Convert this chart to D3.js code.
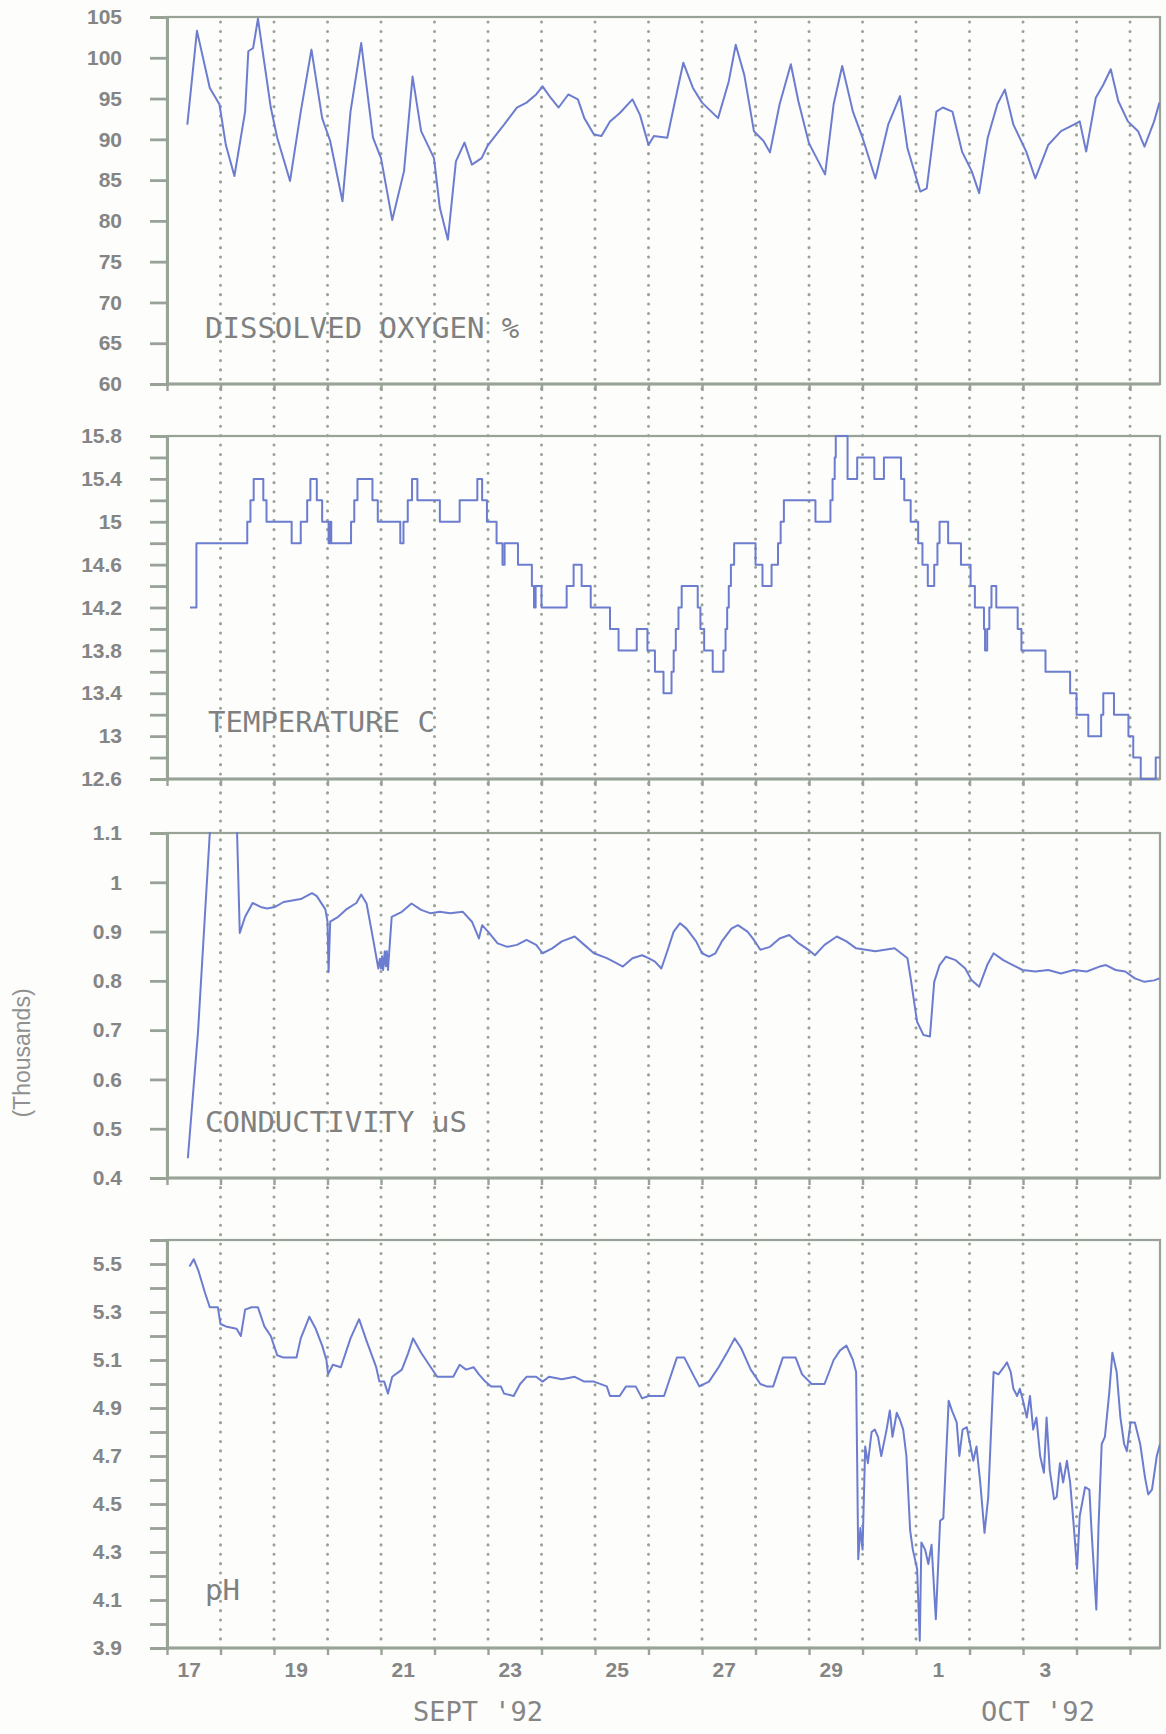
<!DOCTYPE html>
<html><head><meta charset="utf-8">
<script src="https://cdn.jsdelivr.net/npm/d3@7"></script>
<style>body{margin:0;background:#fff}svg{display:block}</style>
</head><body>
<script>
// x values: days since 17 Sept 1992 00:00
const dissolvedOxygen = [[0.38,91.8],[0.56,103.3],[0.8,96.3],[0.98,94.3],[1.1,89.3],[1.26,85.5],[1.46,93.4],[1.52,100.8],[1.61,101.2],[1.7,104.8],[1.94,93.9],[2.06,90.2],[2.3,84.9],[2.5,93.4],[2.7,101],[2.9,92.6],[3.05,89.8],[3.28,82.4],[3.43,93.4],[3.63,101.8],[3.85,90.2],[4.0,87.7],[4.21,80.1],[4.43,86.1],[4.59,97.7],[4.75,91],[4.99,87.7],[5.1,81.6],[5.25,77.7],[5.4,87.3],[5.56,89.6],[5.7,86.9],[5.88,87.7],[6.0,89.3],[6.3,91.8],[6.54,93.9],[6.72,94.5],[6.9,95.5],[7.02,96.5],[7.17,95.1],[7.32,93.9],[7.5,95.5],[7.68,94.9],[7.8,92.6],[7.98,90.6],[8.12,90.4],[8.28,92.2],[8.46,93.2],[8.7,94.9],[8.84,93],[9.0,89.3],[9.1,90.4],[9.35,90.2],[9.47,93.9],[9.65,99.4],[9.83,96.3],[10.0,94.5],[10.3,92.6],[10.5,97.1],[10.63,101.6],[10.79,97.9],[10.97,91],[11.15,89.8],[11.27,88.4],[11.45,94.3],[11.66,99.2],[11.8,94.7],[12.0,89.5],[12.3,85.7],[12.46,94.3],[12.62,99],[12.82,93.4],[13.0,90.2],[13.24,85.2],[13.48,91.8],[13.7,95.3],[13.84,88.9],[14.08,83.6],[14.2,84],[14.38,93.4],[14.5,93.9],[14.68,93.4],[14.86,88.5],[15.04,86.1],[15.18,83.4],[15.34,90.2],[15.52,94.3],[15.66,96.1],[15.82,91.8],[16.06,88.5],[16.23,85.2],[16.47,89.3],[16.71,91],[16.95,91.8],[17.06,92.2],[17.18,88.5],[17.36,95.1],[17.5,96.7],[17.64,98.6],[17.78,94.7],[17.96,92.2],[18.15,91],[18.27,89.1],[18.45,92.2],[18.55,94.5]];

// temperature: each value holds until the next reading (step)
const temperature = [[0.43,14.2],[0.55,14.8],[1.5,15.0],[1.56,15.2],[1.62,15.4],[1.8,15.2],[1.86,15.0],[2.33,14.8],[2.5,15.0],[2.62,15.2],[2.68,15.4],[2.8,15.2],[2.9,15.0],[3.02,14.8],[3.05,15.0],[3.07,14.8],[3.44,15.0],[3.5,15.2],[3.56,15.4],[3.84,15.2],[3.94,15.0],[4.36,14.8],[4.42,15.0],[4.5,15.2],[4.58,15.4],[4.68,15.2],[5.1,15.0],[5.47,15.2],[5.8,15.4],[5.89,15.2],[5.98,15.0],[6.16,14.8],[6.27,14.6],[6.31,14.8],[6.56,14.6],[6.82,14.4],[6.86,14.2],[6.89,14.4],[7.0,14.2],[7.47,14.4],[7.6,14.6],[7.75,14.4],[7.92,14.2],[8.28,14.0],[8.44,13.8],[8.78,14.0],[8.98,13.8],[9.12,13.6],[9.28,13.4],[9.43,13.6],[9.47,13.8],[9.51,14.0],[9.56,14.2],[9.62,14.4],[9.92,14.2],[9.97,14.0],[10.04,13.8],[10.2,13.6],[10.4,13.8],[10.44,14.0],[10.47,14.2],[10.5,14.4],[10.54,14.6],[10.6,14.8],[11.0,14.6],[11.13,14.4],[11.3,14.6],[11.42,14.8],[11.47,15.0],[11.53,15.2],[12.12,15.0],[12.4,15.2],[12.44,15.4],[12.48,15.6],[12.5,15.8],[12.72,15.4],[12.9,15.6],[13.22,15.4],[13.4,15.6],[13.72,15.4],[13.78,15.2],[13.9,15.0],[14.04,14.8],[14.12,14.6],[14.22,14.4],[14.34,14.6],[14.4,14.8],[14.44,15.0],[14.6,14.8],[14.84,14.6],[15.02,14.4],[15.1,14.2],[15.27,14.0],[15.29,13.8],[15.33,14.0],[15.37,14.2],[15.41,14.4],[15.5,14.2],[15.9,14.0],[15.97,13.8],[16.42,13.6],[16.88,13.4],[17.0,13.2],[17.22,13.0],[17.46,13.2],[17.5,13.4],[17.7,13.2],[17.97,13.0],[18.06,12.8],[18.2,12.6],[18.48,12.8],[18.56,12.8]];

// conductivity (thousands uS); values above 1.1 are off scale
const conductivity = [[0.39,0.44],[0.58,0.697],[0.8,1.1],[0.84,1.25],[1.27,1.25],[1.31,1.1],[1.36,0.897],[1.46,0.93],[1.6,0.958],[1.75,0.95],[1.87,0.947],[2.02,0.95],[2.18,0.96],[2.5,0.966],[2.71,0.978],[2.8,0.972],[2.96,0.945],[3.0,0.92],[3.02,0.818],[3.05,0.92],[3.2,0.93],[3.35,0.945],[3.54,0.958],[3.63,0.975],[3.73,0.957],[3.86,0.88],[3.95,0.825],[3.98,0.845],[4.0,0.825],[4.02,0.85],[4.04,0.822],[4.07,0.86],[4.09,0.83],[4.11,0.86],[4.13,0.822],[4.2,0.93],[4.39,0.94],[4.57,0.957],[4.75,0.944],[4.93,0.937],[5.1,0.94],[5.29,0.937],[5.53,0.94],[5.7,0.92],[5.83,0.886],[5.89,0.913],[6.0,0.9],[6.18,0.876],[6.36,0.869],[6.54,0.873],[6.72,0.883],[6.9,0.873],[7.02,0.856],[7.2,0.866],[7.38,0.88],[7.62,0.89],[7.8,0.873],[7.98,0.856],[8.22,0.846],[8.4,0.836],[8.52,0.829],[8.7,0.846],[8.88,0.852],[9.0,0.846],[9.12,0.839],[9.24,0.825],[9.35,0.86],[9.47,0.9],[9.59,0.917],[9.71,0.906],[9.89,0.88],[10.0,0.856],[10.13,0.849],[10.25,0.856],[10.37,0.88],[10.55,0.906],[10.67,0.913],[10.85,0.9],[10.97,0.883],[11.09,0.863],[11.27,0.869],[11.45,0.886],[11.63,0.893],[11.81,0.876],[11.99,0.863],[12.11,0.852],[12.29,0.873],[12.52,0.89],[12.7,0.88],[12.88,0.866],[13.06,0.863],[13.24,0.86],[13.42,0.863],[13.6,0.866],[13.72,0.856],[13.84,0.846],[13.9,0.805],[14.02,0.717],[14.14,0.69],[14.26,0.687],[14.34,0.798],[14.44,0.832],[14.56,0.849],[14.74,0.842],[14.92,0.825],[15.04,0.801],[15.18,0.788],[15.33,0.832],[15.45,0.856],[15.63,0.842],[15.81,0.832],[15.99,0.822],[16.23,0.819],[16.47,0.822],[16.71,0.815],[16.95,0.822],[17.19,0.819],[17.43,0.829],[17.55,0.832],[17.73,0.822],[17.91,0.819],[18.09,0.805],[18.27,0.798],[18.45,0.801],[18.55,0.805]];

const pH = [[0.42,5.49],[0.5,5.52],[0.59,5.47],[0.71,5.38],[0.8,5.32],[0.95,5.32],[1.0,5.25],[1.1,5.24],[1.3,5.23],[1.38,5.2],[1.46,5.31],[1.58,5.32],[1.7,5.32],[1.82,5.24],[1.94,5.2],[2.06,5.12],[2.18,5.11],[2.42,5.11],[2.5,5.19],[2.66,5.28],[2.78,5.23],[2.9,5.16],[2.98,5.1],[3.01,5.04],[3.1,5.08],[3.25,5.07],[3.43,5.19],[3.59,5.27],[3.73,5.18],[3.91,5.07],[3.97,5.01],[4.06,5.01],[4.13,4.96],[4.21,5.03],[4.39,5.06],[4.51,5.13],[4.6,5.19],[4.75,5.13],[4.93,5.07],[5.05,5.03],[5.35,5.03],[5.47,5.08],[5.59,5.06],[5.73,5.07],[5.83,5.04],[5.95,5.01],[6.06,4.99],[6.24,4.99],[6.3,4.96],[6.48,4.95],[6.6,5.0],[6.72,5.03],[6.9,5.03],[7.02,5.01],[7.14,5.03],[7.38,5.02],[7.62,5.03],[7.8,5.01],[7.98,5.01],[8.22,4.99],[8.28,4.95],[8.46,4.95],[8.58,4.99],[8.76,4.99],[8.88,4.94],[9.0,4.95],[9.29,4.95],[9.41,5.03],[9.53,5.11],[9.67,5.11],[9.83,5.04],[9.95,4.99],[10.13,5.01],[10.31,5.07],[10.49,5.14],[10.61,5.19],[10.73,5.15],[10.91,5.06],[11.09,5.0],[11.21,4.99],[11.33,4.99],[11.51,5.11],[11.63,5.11],[11.75,5.11],[11.87,5.04],[12.05,5.0],[12.29,5.0],[12.46,5.1],[12.58,5.14],[12.7,5.16],[12.82,5.1],[12.88,5.05],[12.9,4.67],[12.92,4.27],[12.96,4.4],[13.0,4.31],[13.05,4.74],[13.1,4.67],[13.17,4.8],[13.23,4.81],[13.29,4.78],[13.35,4.7],[13.45,4.81],[13.51,4.89],[13.56,4.78],[13.64,4.88],[13.7,4.85],[13.76,4.81],[13.82,4.7],[13.89,4.39],[13.94,4.31],[14.02,4.23],[14.07,3.93],[14.1,4.34],[14.17,4.31],[14.23,4.25],[14.29,4.33],[14.37,4.02],[14.45,4.43],[14.51,4.44],[14.61,4.93],[14.67,4.89],[14.76,4.84],[14.81,4.7],[14.87,4.81],[14.95,4.82],[15.01,4.75],[15.07,4.68],[15.13,4.74],[15.2,4.59],[15.28,4.38],[15.35,4.53],[15.45,5.05],[15.54,5.04],[15.64,5.07],[15.7,5.09],[15.77,5.05],[15.82,4.98],[15.89,4.95],[15.94,4.98],[16.0,4.93],[16.07,4.86],[16.13,4.95],[16.19,4.81],[16.25,4.86],[16.32,4.7],[16.39,4.63],[16.44,4.86],[16.5,4.64],[16.58,4.52],[16.63,4.53],[16.69,4.67],[16.75,4.59],[16.82,4.68],[16.88,4.59],[16.94,4.43],[17.01,4.23],[17.06,4.45],[17.16,4.57],[17.24,4.56],[17.28,4.39],[17.37,4.06],[17.41,4.4],[17.47,4.75],[17.53,4.78],[17.61,4.96],[17.67,5.13],[17.75,5.05],[17.82,4.86],[17.89,4.75],[17.94,4.72],[18.01,4.84],[18.09,4.84],[18.19,4.75],[18.28,4.61],[18.34,4.54],[18.41,4.56],[18.5,4.7],[18.56,4.75]];

const doTicks = [60,65,70,75,80,85,90,95,100,105];
const doTickLabels = ["60","65","70","75","80","85","90","95","100","105"];
const tempTicks = [12.6,12.8,13.0,13.2,13.4,13.6,13.8,14.0,14.2,14.4,14.6,14.8,15.0,15.2,15.4,15.6,15.8];
const tempTickLabels = ["12.6","","13","","13.4","","13.8","","14.2","","14.6","","15","","15.4","","15.8"];
const condTicks = [0.4,0.5,0.6,0.7,0.8,0.9,1.0,1.1];
const condTickLabels = ["0.4","0.5","0.6","0.7","0.8","0.9","1","1.1"];
const phTicks = [3.9,4.0,4.1,4.2,4.3,4.4,4.5,4.6,4.7,4.8,4.9,5.0,5.1,5.2,5.3,5.4,5.5];
const phTickLabels = ["3.9","","4.1","","4.3","","4.5","","4.7","","4.9","","5.1","","5.3","","5.5"];
const dayTicks = [0,1,2,3,4,5,6,7,8,9,10,11,12,13,14,15,16,17,18];
const dayLabelPos = [0.5,2.5,4.5,6.5,8.5,10.5,12.5,14.5,16.5];
const dayLabels = ["17","19","21","23","25","27","29","1","3"];
const panelTitles = ["DISSOLVED OXYGEN %","TEMPERATURE C","CONDUCTIVITY uS","pH"];

const W = 1166, H = 1734;
const LINE = "#6c7dcf", AXIS = "#98a296", GRID = "#99a297", TEXT = "#858585";
const L = 167, R = 1160;

const panels = [
  {data: dissolvedOxygen, domain:[60,105], ticks: doTicks, labels: doTickLabels, title: panelTitles[0], top:17, bottom:384, curve:d3.curveLinear, tx:205, ty:338},
  {data: temperature, domain:[12.6,15.8], ticks: tempTicks, labels: tempTickLabels, title: panelTitles[1], top:436, bottom:779, curve:d3.curveStepAfter, tx:208, ty:732},
  {data: conductivity, domain:[0.4,1.1], ticks: condTicks, labels: condTickLabels, title: panelTitles[2], top:833, bottom:1178, curve:d3.curveLinear, tx:205, ty:1132},
  {data: pH, domain:[3.9,5.6], ticks: phTicks, labels: phTickLabels, title: panelTitles[3], top:1240, bottom:1648, curve:d3.curveLinear, tx:205, ty:1600}
];

const x = d3.scaleLinear().domain([0, 18.56]).range([L, R]);

const svg = d3.select("body").append("svg").attr("width", W).attr("height", H)
  .style("background", "#fdfdfc");

// dotted day gridlines spanning all panels
svg.append("g").selectAll("line").data(dayTicks.slice(1)).join("line")
  .attr("x1", d => x(d)).attr("x2", d => x(d))
  .attr("y1", 22).attr("y2", 1650)
  .attr("stroke", GRID).attr("stroke-width", 3)
  .attr("stroke-linecap", "round").attr("stroke-dasharray", "0.1 9.3");

const tickFont = sel => sel.attr("fill", TEXT)
  .style("font-family", "'Liberation Sans', Arial, sans-serif").style("font-size", "21px").style("font-weight", "bold");

panels.forEach((p, i) => {
  const y = d3.scaleLinear().domain(p.domain).range([p.bottom, p.top]);
  const g = svg.append("g");

  // frame
  g.append("rect").attr("x", L).attr("y", p.top).attr("width", R - L).attr("height", p.bottom - p.top)
    .attr("fill", "none").attr("stroke", AXIS).attr("stroke-width", 2.2);
  g.append("line").attr("x1", L).attr("x2", R).attr("y1", p.bottom).attr("y2", p.bottom)
    .attr("stroke", AXIS).attr("stroke-width", 3);

  // day ticks along the bottom
  const xa = g.append("g").attr("transform", `translate(0,${p.bottom})`)
    .call(d3.axisBottom(x).tickValues(dayTicks).tickSize(7).tickSizeOuter(0).tickFormat(""));
  xa.select(".domain").remove();
  xa.selectAll(".tick line").attr("stroke", AXIS).attr("stroke-width", 2.4);

  // left axis
  const ya = g.append("g").attr("transform", `translate(${L},0)`)
    .call(d3.axisLeft(y).tickValues(p.ticks).tickFormat((d, k) => p.labels[k])
      .tickSize(17).tickSizeOuter(17).tickPadding(28));
  ya.select(".domain").attr("stroke", AXIS).attr("stroke-width", 3).attr("fill", "none");
  ya.selectAll(".tick line").attr("stroke", AXIS).attr("stroke-width", 2.8);
  ya.selectAll(".tick text").call(tickFont);

  // clip + series line
  const cid = "clip" + i;
  svg.append("clipPath").attr("id", cid).append("rect")
    .attr("x", L).attr("y", p.top - 1).attr("width", R - L).attr("height", p.bottom - p.top + 2);
  const line = d3.line().x(d => x(d[0])).y(d => y(d[1])).curve(p.curve);
  g.append("path").datum(p.data).attr("clip-path", `url(#${cid})`)
    .attr("d", line).attr("fill", "none").attr("stroke", LINE)
    .attr("stroke-width", 2).attr("stroke-linejoin", "round");

  // panel title
  g.append("text").attr("x", p.tx).attr("y", p.ty).text(p.title)
    .attr("fill", "#808080").style("font-family", "'DejaVu Sans Mono', monospace").style("font-size", "29px");

  if (i === panels.length - 1) {
    const la = g.append("g").attr("transform", `translate(0,${p.bottom})`)
      .call(d3.axisBottom(x).tickValues(dayLabelPos).tickFormat((d, k) => dayLabels[k]).tickSize(0).tickPadding(14));
    la.select(".domain").remove();
    la.selectAll(".tick text").attr("dx", -5).call(tickFont);
  }
});

// month labels
svg.append("text").attr("x", 478).attr("y", 1721).attr("text-anchor", "middle").text("SEPT '92")
  .attr("fill", TEXT).style("font-family", "'DejaVu Sans Mono', monospace").style("font-size", "27px");
svg.append("text").attr("x", 1038).attr("y", 1721).attr("text-anchor", "middle").text("OCT '92")
  .attr("fill", TEXT).style("font-family", "'DejaVu Sans Mono', monospace").style("font-size", "27px");

// unit label for conductivity
svg.append("text").attr("transform", "translate(30,1053) rotate(-90)").attr("text-anchor", "middle")
  .text("(Thousands)").attr("fill", "#909090")
  .style("font-family", "'Liberation Sans', Arial, sans-serif").style("font-size", "23px");
</script>
</body></html>
